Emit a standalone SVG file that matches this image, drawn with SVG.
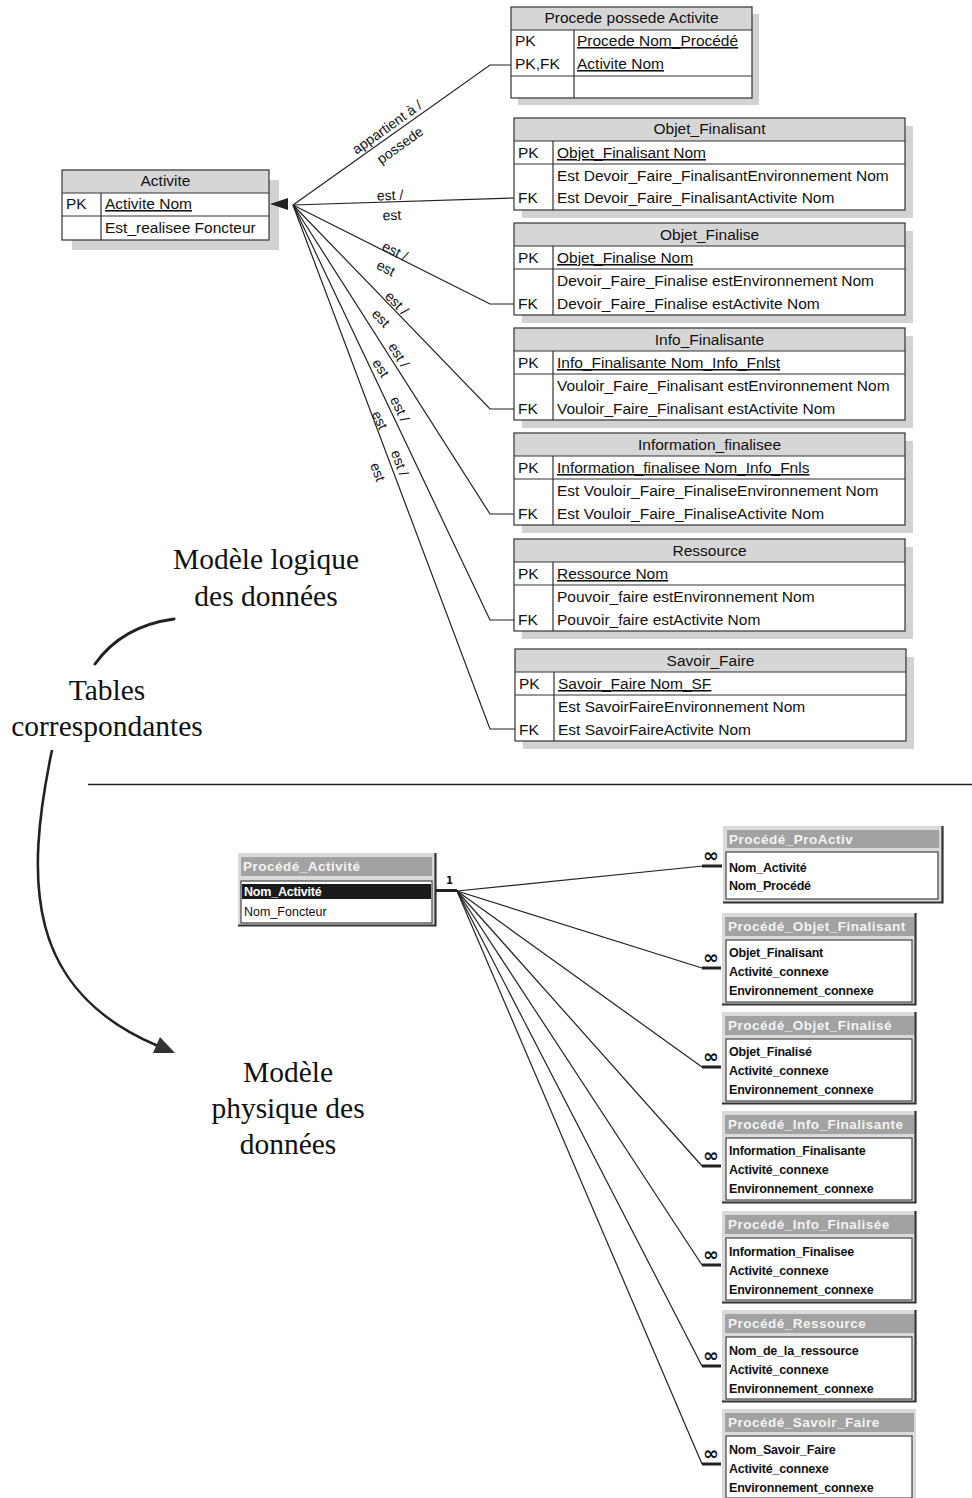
<svg xmlns="http://www.w3.org/2000/svg" width="972" height="1498" viewBox="0 0 972 1498">
<style>
.shadow{fill:#d2d2d2}
.hdr{fill:#d6d6d6}
.body{fill:#fff}
.frame{fill:none;stroke:#333;stroke-width:1.2}
.grid{fill:none;stroke:#333;stroke-width:1.2}
.t{font-family:'Liberation Sans',Arial,sans-serif;font-size:15.5px;fill:#111}
.ht{font-family:'Liberation Sans',Arial,sans-serif;font-size:15.5px;fill:#111;text-anchor:middle}
.u{text-decoration:underline}
.lbl{font-family:'Liberation Sans',Arial,sans-serif;font-size:14px;fill:#111;text-anchor:middle}
.conn{fill:none;stroke:#222;stroke-width:1.2}
.serif{font-family:'Liberation Serif','Times New Roman',serif;font-size:29.5px;fill:#111;text-anchor:middle}
.abg{fill:#dadada}
.atitle{fill:#a2a2a2}
.att{font-family:'Liberation Sans',Arial,sans-serif;font-size:13.5px;font-weight:bold;fill:#f4f4f4;letter-spacing:0.5px}
.abox{fill:#fff;stroke:#444;stroke-width:1.2}
.aedge{fill:none;stroke:#333;stroke-width:2.2}
.ar{font-family:'Liberation Sans',Arial,sans-serif;font-size:12.5px;font-weight:bold;fill:#111;letter-spacing:-0.2px}
.thick{stroke:#222;stroke-width:3;fill:none}
.inf{font-family:'DejaVu Sans',sans-serif;font-size:19px;font-weight:bold;fill:#111;text-anchor:middle}
</style>

<!-- ===== Upper: logical model ===== -->
<g id="activite">
<rect class="shadow" x="72" y="180" width="207" height="70"/>
<rect class="hdr" x="62" y="170" width="207" height="23"/>
<rect class="body" x="62" y="193" width="207" height="47"/>
<path class="grid" d="M62 193H269M62 216H269M101 193V240"/>
<rect class="frame" x="62" y="170" width="207" height="70"/>
<text class="ht" x="165.5" y="186">Activite</text>
<text class="t" x="66" y="209">PK</text>
<text class="t u" x="105" y="209">Activite Nom</text>
<text class="t" x="105" y="233">Est_realisee Foncteur</text>
</g>

<g id="procede-possede-activite">
<rect class="shadow" x="518" y="14" width="241" height="91"/>
<rect class="hdr" x="511" y="7" width="241" height="23"/>
<rect class="body" x="511" y="30" width="241" height="68"/>
<path class="grid" d="M511 30H752M511 76H752M574 30V98"/>
<rect class="frame" x="511" y="7" width="241" height="91"/>
<text class="ht" x="631.5" y="23">Procede possede Activite</text>
<text class="t" x="515" y="46">PK</text>
<text class="t u" x="577" y="46">Procede Nom_Procédé</text>
<text class="t" x="515" y="69">PK,FK</text>
<text class="t u" x="577" y="69">Activite Nom</text>
</g>

<g id="objet-finalisant">
<rect class="shadow" x="522" y="126" width="391" height="92"/>
<rect class="hdr" x="514" y="118" width="391" height="23"/>
<rect class="body" x="514" y="141" width="391" height="69"/>
<path class="grid" d="M514 141H905M514 164H905M553 141V210"/>
<rect class="frame" x="514" y="118" width="391" height="92"/>
<text class="ht" x="709.5" y="134">Objet_Finalisant</text>
<text class="t" x="518" y="158">PK</text>
<text class="t u" x="557" y="158">Objet_Finalisant Nom</text>
<text class="t" x="557" y="181">Est Devoir_Faire_FinalisantEnvironnement Nom</text>
<text class="t" x="518" y="203">FK</text>
<text class="t" x="557" y="203">Est Devoir_Faire_FinalisantActivite Nom</text>
</g>

<g id="objet-finalise">
<rect class="shadow" x="522" y="231" width="391" height="92"/>
<rect class="hdr" x="514" y="223" width="391" height="23"/>
<rect class="body" x="514" y="246" width="391" height="69"/>
<path class="grid" d="M514 246H905M514 269H905M553 246V315"/>
<rect class="frame" x="514" y="223" width="391" height="92"/>
<text class="ht" x="709.5" y="240">Objet_Finalise</text>
<text class="t" x="518" y="263">PK</text>
<text class="t u" x="557" y="263">Objet_Finalise Nom</text>
<text class="t" x="557" y="286">Devoir_Faire_Finalise estEnvironnement Nom</text>
<text class="t" x="518" y="309">FK</text>
<text class="t" x="557" y="309">Devoir_Faire_Finalise estActivite Nom</text>
</g>

<g id="info-finalisante">
<rect class="shadow" x="522" y="336" width="391" height="92"/>
<rect class="hdr" x="514" y="328" width="391" height="23"/>
<rect class="body" x="514" y="351" width="391" height="69"/>
<path class="grid" d="M514 351H905M514 374H905M553 351V420"/>
<rect class="frame" x="514" y="328" width="391" height="92"/>
<text class="ht" x="709.5" y="345">Info_Finalisante</text>
<text class="t" x="518" y="368">PK</text>
<text class="t u" x="557" y="368">Info_Finalisante Nom_Info_Fnlst</text>
<text class="t" x="557" y="391">Vouloir_Faire_Finalisant estEnvironnement Nom</text>
<text class="t" x="518" y="414">FK</text>
<text class="t" x="557" y="414">Vouloir_Faire_Finalisant estActivite Nom</text>
</g>

<g id="information-finalisee">
<rect class="shadow" x="522" y="441" width="391" height="92"/>
<rect class="hdr" x="514" y="433" width="391" height="23"/>
<rect class="body" x="514" y="456" width="391" height="69"/>
<path class="grid" d="M514 456H905M514 479H905M553 456V525"/>
<rect class="frame" x="514" y="433" width="391" height="92"/>
<text class="ht" x="709.5" y="450">Information_finalisee</text>
<text class="t" x="518" y="473">PK</text>
<text class="t u" x="557" y="473">Information_finalisee Nom_Info_Fnls</text>
<text class="t" x="557" y="496">Est Vouloir_Faire_FinaliseEnvironnement Nom</text>
<text class="t" x="518" y="519">FK</text>
<text class="t" x="557" y="519">Est Vouloir_Faire_FinaliseActivite Nom</text>
</g>

<g id="ressource">
<rect class="shadow" x="522" y="547" width="391" height="92"/>
<rect class="hdr" x="514" y="539" width="391" height="23"/>
<rect class="body" x="514" y="562" width="391" height="69"/>
<path class="grid" d="M514 562H905M514 585H905M553 562V631"/>
<rect class="frame" x="514" y="539" width="391" height="92"/>
<text class="ht" x="709.5" y="556">Ressource</text>
<text class="t" x="518" y="579">PK</text>
<text class="t u" x="557" y="579">Ressource Nom</text>
<text class="t" x="557" y="602">Pouvoir_faire estEnvironnement Nom</text>
<text class="t" x="518" y="625">FK</text>
<text class="t" x="557" y="625">Pouvoir_faire estActivite Nom</text>
</g>

<g id="savoir-faire">
<rect class="shadow" x="523" y="657" width="391" height="92"/>
<rect class="hdr" x="515" y="649" width="391" height="23"/>
<rect class="body" x="515" y="672" width="391" height="69"/>
<path class="grid" d="M515 672H906M515 695H906M554 672V741"/>
<rect class="frame" x="515" y="649" width="391" height="92"/>
<text class="ht" x="710.5" y="666">Savoir_Faire</text>
<text class="t" x="519" y="689">PK</text>
<text class="t u" x="558" y="689">Savoir_Faire Nom_SF</text>
<text class="t" x="558" y="712">Est SavoirFaireEnvironnement Nom</text>
<text class="t" x="519" y="735">FK</text>
<text class="t" x="558" y="735">Est SavoirFaireActivite Nom</text>
</g>

<g id="connectors-logical">
<path class="conn" d="M293 205L490 65H511"/>
<path class="conn" d="M293 205L514 198"/>
<path class="conn" d="M293 205L490 304H514"/>
<path class="conn" d="M293 205L490 409H514"/>
<path class="conn" d="M293 205L490 514H514"/>
<path class="conn" d="M293 205L490 620H514"/>
<path class="conn" d="M293 205L490 729H515"/>
<polygon points="270,204 288,198 288,210" fill="#222"/>
<text class="lbl" transform="translate(387 127) rotate(-35.4)" y="5">appartient à /</text>
<text class="lbl" transform="translate(400 145) rotate(-35.4)" y="5">possede</text>
<text class="lbl" transform="translate(390 195) rotate(-1.8)" y="5">est /</text>
<text class="lbl" transform="translate(392 215) rotate(-1.8)" y="5">est</text>
<text class="lbl" transform="translate(395 251) rotate(26.7)" y="5">est /</text>
<text class="lbl" transform="translate(386 268) rotate(26.7)" y="5">est</text>
<text class="lbl" transform="translate(397 303) rotate(46)" y="5">est /</text>
<text class="lbl" transform="translate(381 318) rotate(46)" y="5">est</text>
<text class="lbl" transform="translate(399 355) rotate(57.5)" y="5">est /</text>
<text class="lbl" transform="translate(381 368) rotate(57.5)" y="5">est</text>
<text class="lbl" transform="translate(400 409) rotate(64.6)" y="5">est /</text>
<text class="lbl" transform="translate(380 420) rotate(64.6)" y="5">est</text>
<text class="lbl" transform="translate(400 463) rotate(69.4)" y="5">est /</text>
<text class="lbl" transform="translate(378 472) rotate(69.4)" y="5">est</text>
</g>

<!-- ===== Captions and arrows ===== -->
<g id="captions">
<text class="serif" x="266" y="569">Modèle logique</text>
<text class="serif" x="266" y="606">des données</text>
<text class="serif" x="107" y="700">Tables</text>
<text class="serif" x="107" y="736">correspondantes</text>
<text class="serif" x="288" y="1082">Modèle</text>
<text class="serif" x="288" y="1118">physique des</text>
<text class="serif" x="288" y="1154">données</text>
<path d="M95 664Q122 626 174 619" fill="none" stroke="#222" stroke-width="3" stroke-linecap="round"/>
<path d="M52 750C25 880 25 990 158 1046" fill="none" stroke="#222" stroke-width="2.6"/>
<polygon points="175,1053 160,1037 153,1053" fill="#333"/>
<line x1="88" y1="784.5" x2="972" y2="784.5" stroke="#222" stroke-width="1.3"/>
</g>

<!-- ===== Lower: physical model ===== -->
<g id="procede-activite">
<rect class="abg" x="238" y="853" width="198" height="73"/>
<rect class="atitle" x="241" y="857" width="191" height="19"/>
<text class="att" x="243" y="871">Procédé_Activité</text>
<rect class="abox" x="241" y="881" width="191" height="42"/>
<rect x="242" y="884" width="189" height="15" fill="#1a1a1a"/>
<text class="ar" x="244" y="896" style="fill:#fff">Nom_Activité</text>
<text class="ar" x="244" y="916" style="font-weight:normal;letter-spacing:0">Nom_Foncteur</text>
<path class="aedge" d="M238 925.5H435.5V853"/>
</g>

<g id="procede-proactiv">
<rect class="abg" x="723" y="826" width="220" height="77"/>
<rect class="atitle" x="727" y="830" width="212" height="18"/>
<text class="att" x="729" y="844">Procédé_ProActiv</text>
<rect class="abox" x="726" y="852" width="212" height="47"/>
<text class="ar" x="729" y="872">Nom_Activité</text>
<text class="ar" x="729" y="890">Nom_Procédé</text>
<path class="aedge" d="M723 902.5H942.5V826"/>
</g>

<g id="procede-objet-finalisant">
<rect class="abg" x="722" y="913" width="194" height="92"/>
<rect class="atitle" x="725" y="917" width="189" height="19"/>
<text class="att" x="728" y="931">Procédé_Objet_Finalisant</text>
<rect class="abox" x="726" y="940" width="186" height="62"/>
<text class="ar" x="729" y="957">Objet_Finalisant</text>
<text class="ar" x="729" y="976">Activité_connexe</text>
<text class="ar" x="729" y="995">Environnement_connexe</text>
<path class="aedge" d="M722 1004.5H915.5V913"/>
</g>

<g id="procede-objet-finalise">
<rect class="abg" x="722" y="1012" width="194" height="92"/>
<rect class="atitle" x="725" y="1016" width="189" height="19"/>
<text class="att" x="728" y="1030">Procédé_Objet_Finalisé</text>
<rect class="abox" x="726" y="1039" width="186" height="62"/>
<text class="ar" x="729" y="1056">Objet_Finalisé</text>
<text class="ar" x="729" y="1075">Activité_connexe</text>
<text class="ar" x="729" y="1094">Environnement_connexe</text>
<path class="aedge" d="M722 1103.5H915.5V1012"/>
</g>

<g id="procede-info-finalisante">
<rect class="abg" x="722" y="1111" width="194" height="92"/>
<rect class="atitle" x="725" y="1115" width="189" height="19"/>
<text class="att" x="728" y="1129">Procédé_Info_Finalisante</text>
<rect class="abox" x="726" y="1138" width="186" height="62"/>
<text class="ar" x="729" y="1155">Information_Finalisante</text>
<text class="ar" x="729" y="1174">Activité_connexe</text>
<text class="ar" x="729" y="1193">Environnement_connexe</text>
<path class="aedge" d="M722 1202.5H915.5V1111"/>
</g>

<g id="procede-info-finalisee">
<rect class="abg" x="722" y="1211" width="194" height="92"/>
<rect class="atitle" x="725" y="1215" width="189" height="19"/>
<text class="att" x="728" y="1229">Procédé_Info_Finalisée</text>
<rect class="abox" x="726" y="1238" width="186" height="62"/>
<text class="ar" x="729" y="1256">Information_Finalisee</text>
<text class="ar" x="729" y="1275">Activité_connexe</text>
<text class="ar" x="729" y="1294">Environnement_connexe</text>
<path class="aedge" d="M722 1302.5H915.5V1211"/>
</g>

<g id="procede-ressource">
<rect class="abg" x="722" y="1310" width="194" height="92"/>
<rect class="atitle" x="725" y="1314" width="189" height="19"/>
<text class="att" x="728" y="1328">Procédé_Ressource</text>
<rect class="abox" x="726" y="1337" width="186" height="62"/>
<text class="ar" x="729" y="1355">Nom_de_la_ressource</text>
<text class="ar" x="729" y="1374">Activité_connexe</text>
<text class="ar" x="729" y="1393">Environnement_connexe</text>
<path class="aedge" d="M722 1401.5H915.5V1310"/>
</g>

<g id="procede-savoir-faire">
<rect class="abg" x="722" y="1409" width="194" height="89"/>
<rect class="atitle" x="725" y="1413" width="189" height="19"/>
<text class="att" x="728" y="1427">Procédé_Savoir_Faire</text>
<rect class="abox" x="726" y="1436" width="186" height="62"/>
<text class="ar" x="729" y="1454">Nom_Savoir_Faire</text>
<text class="ar" x="729" y="1473">Activité_connexe</text>
<text class="ar" x="729" y="1492">Environnement_connexe</text>
</g>

<g id="connectors-physical">
<path class="thick" d="M436 890.5H457"/>
<text x="446" y="884" style="font-family:'DejaVu Sans',sans-serif;font-size:10px;font-weight:bold;fill:#111">1</text>
<path class="conn" d="M457 891L703 866"/>
<path class="conn" d="M457 891L702 968"/>
<path class="conn" d="M457 891L702 1067"/>
<path class="conn" d="M457 891L702 1166"/>
<path class="conn" d="M457 891L702 1265"/>
<path class="conn" d="M457 891L702 1366"/>
<path class="conn" d="M457 891L702 1464"/>
<path class="thick" d="M702 866H722M702 968H721M702 1067H721M702 1166H721M702 1265H721M702 1366H721M702 1464H721"/>
<text class="inf" x="711" y="862">∞</text>
<text class="inf" x="711" y="964">∞</text>
<text class="inf" x="711" y="1063">∞</text>
<text class="inf" x="711" y="1162">∞</text>
<text class="inf" x="711" y="1261">∞</text>
<text class="inf" x="711" y="1362">∞</text>
<text class="inf" x="711" y="1460">∞</text>
</g>
</svg>
